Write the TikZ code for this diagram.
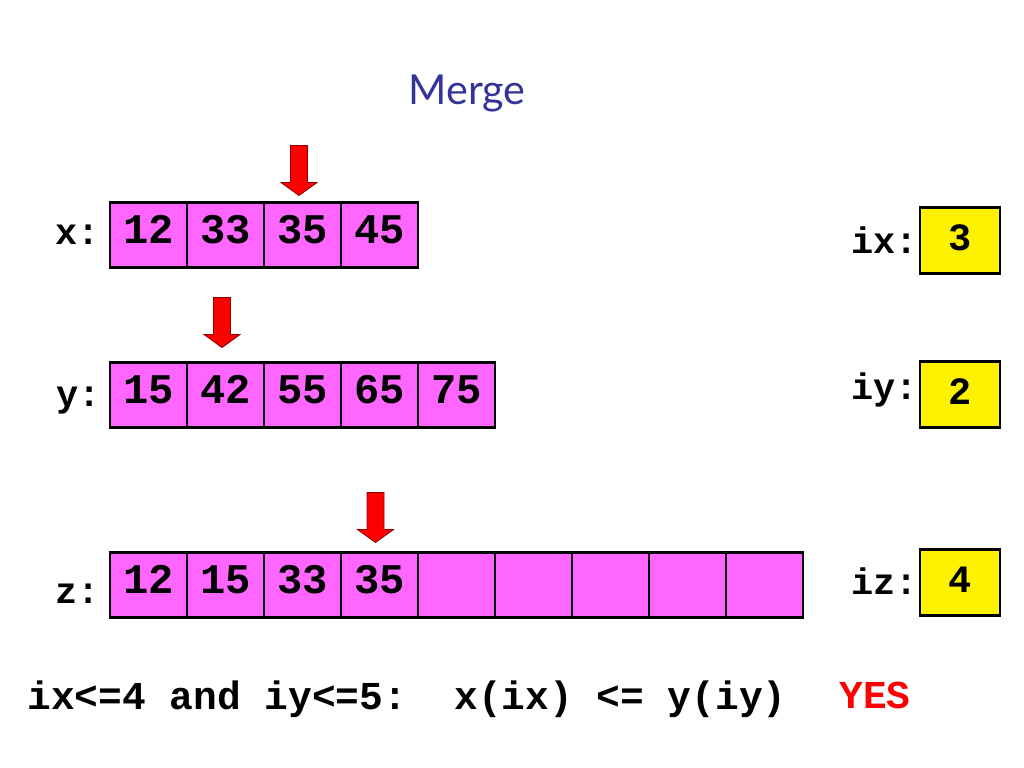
\documentclass[tikz,border=0pt]{standalone}
\usepackage{fontspec}
\setmainfont{Lato}
\setmonofont{Liberation Mono}
\usetikzlibrary{calc}
\definecolor{cellpink}{RGB}{255,102,255}
\definecolor{titleblue}{RGB}{51,51,153}

\begin{document}
\begin{tikzpicture}[
  cell/.style={draw, line width=1.7pt, fill=cellpink, minimum width=1.54cm, minimum height=1.3cm, inner sep=0pt, text height=0.6cm, text depth=0.26cm, font=\fontsize{24}{28}\selectfont\ttfamily\bfseries},
  idx/.style={draw, line width=1.7pt, fill=yellow, minimum width=1.6cm, minimum height=1.32cm, inner sep=0pt, text height=0.6cm, text depth=0.2cm, font=\fontsize{22}{26}\selectfont\ttfamily\bfseries},
  var/.style={anchor=base east, inner sep=0pt, font=\fontsize{21}{25}\selectfont\ttfamily\bfseries},
  pointer/.style={fill=red, draw=red!55!black, line width=0.5pt}]
\useasboundingbox (0,0) rectangle (20.48,15.36);

\node[anchor=base, text=titleblue, font=\fontsize{23.5}{28}\selectfont] (title) at (9.34,13.26) {Merge};

% the three arrays
\foreach \v [count=\i] in {12,33,35,45}
  \node[cell] (x\i) at ({2.97+1.54*(\i-1)},10.65) {\v};
\foreach \v [count=\i] in {15,42,55,65,75}
  \node[cell] (y\i) at ({2.97+1.54*(\i-1)},7.45) {\v};
\foreach \v [count=\i] in {12,15,33,35,{},{},{},{},{}}
  \node[cell] (z\i) at ({2.97+1.54*(\i-1)},3.65) {\v};

\node[var] (xlab) at (2.0,10.46) {x:};
\node[var] (ylab) at (2.02,7.22) {y:};
\node[var] (zlab) at (2.0,3.28) {z:};

% index boxes
\node[idx] (ix) at (19.2,10.54) {3};
\node[idx] (iy) at (19.2,7.46) {2};
\node[idx] (iz) at (19.2,3.70) {4};
\node[var] (ixlab) at (18.36,10.28) {ix:};
\node[var] (iylab) at (18.36,7.36) {iy:};
\node[var] (izlab) at (18.36,3.46) {iz:};

% pointers
\coordinate (xtip) at ($(x3.north)+(-0.07,0.12)$);
\coordinate (ytip) at ($(y2.north)+(-0.07,0.28)$);
\coordinate (ztip) at ($(z4.north)+(-0.08,0.18)$);
\draw[pointer] (xtip) -- ++(-0.36,0.26) -- ++(0.19,0) -- ++(0,0.74) -- ++(0.34,0) -- ++(0,-0.74) -- ++(0.19,0) -- cycle;
\draw[pointer] (ytip) -- ++(-0.36,0.26) -- ++(0.19,0) -- ++(0,0.74) -- ++(0.34,0) -- ++(0,-0.74) -- ++(0.19,0) -- cycle;
\draw[pointer] (ztip) -- ++(-0.36,0.26) -- ++(0.19,0) -- ++(0,0.74) -- ++(0.34,0) -- ++(0,-0.74) -- ++(0.19,0) -- cycle;

\node[anchor=base west, inner sep=0pt, font=\fontsize{22.5}{27}\selectfont\ttfamily\bfseries] (cond) at (0.54,1.16) {ix<=4 and iy<=5:\ \ x(ix) <= y(iy)};
\node[anchor=base west, inner sep=0pt, text=red, font=\fontsize{22.5}{27}\selectfont\ttfamily\bfseries] (yes) at (16.78,1.18) {YES};
\end{tikzpicture}
\end{document}
